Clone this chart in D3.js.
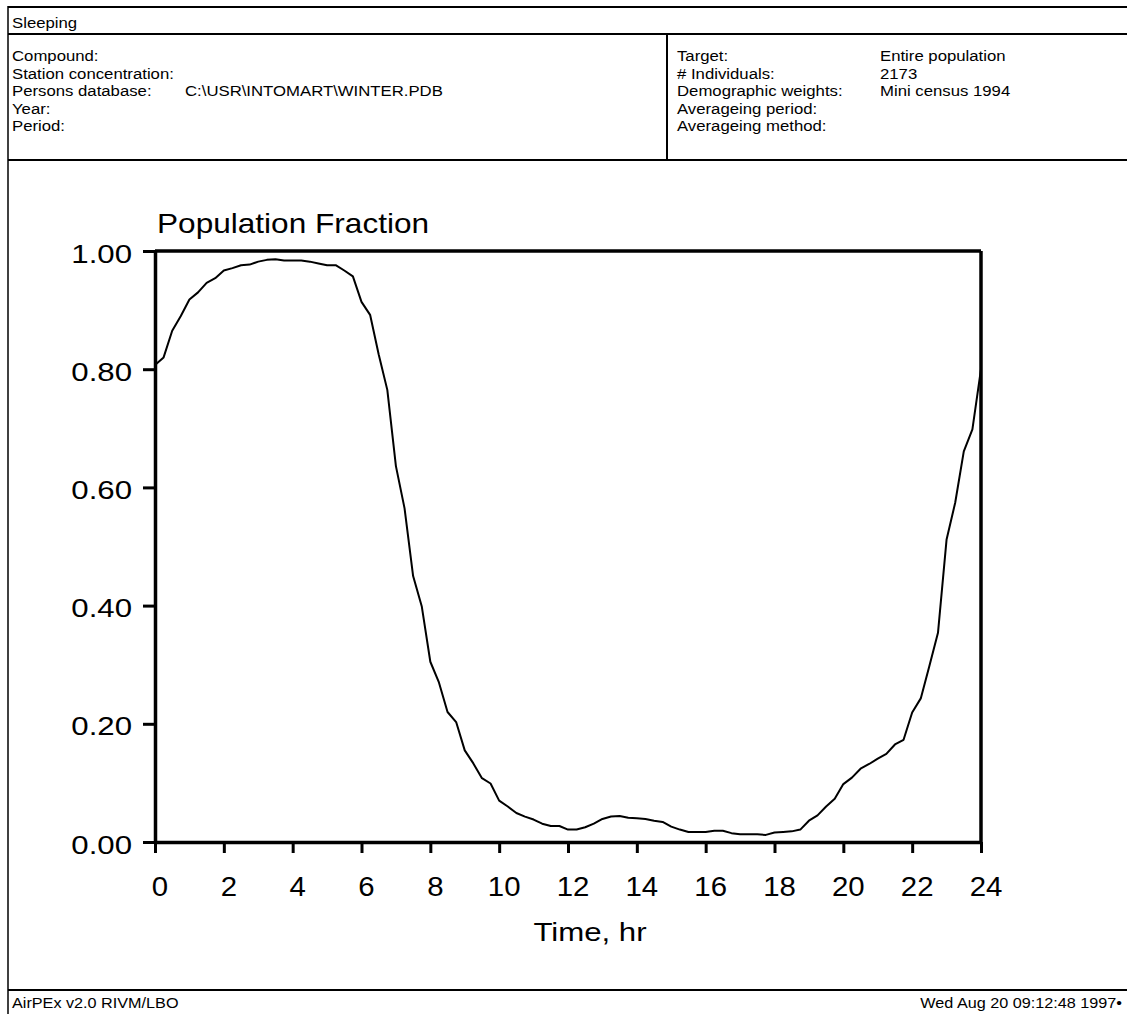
<!DOCTYPE html>
<html>
<head>
<meta charset="utf-8">
<script src="https://cdn.jsdelivr.net/npm/d3@7"></script>
<style>
  html, body { margin: 0; padding: 0; background: #fff; }
  svg { display: block; }
  text { font-family: "Liberation Sans", Arial, Helvetica, sans-serif; fill: #000; }
</style>
</head>
<body>
<svg id="chart" width="1127" height="1014"></svg>
<script>
// ---- Data ----
const hours = [
  0, 0.25, 0.5, 0.75, 1, 1.25, 1.5, 1.75, 2, 2.25, 2.5, 2.75,
  3, 3.25, 3.5, 3.75, 4, 4.25, 4.5, 4.75, 5, 5.25, 5.5, 5.75,
  6, 6.25, 6.5, 6.75, 7, 7.25, 7.5, 7.75, 8, 8.25, 8.5, 8.75,
  9, 9.25, 9.5, 9.75, 10, 10.25, 10.5, 10.75, 11, 11.25, 11.5, 11.75,
  12, 12.25, 12.5, 12.75, 13, 13.25, 13.5, 13.75, 14, 14.25, 14.5, 14.75,
  15, 15.25, 15.5, 15.75, 16, 16.25, 16.5, 16.75, 17, 17.25, 17.5, 17.75,
  18, 18.25, 18.5, 18.75, 19, 19.25, 19.5, 19.75, 20, 20.25, 20.5, 20.75,
  21, 21.25, 21.5, 21.75, 22, 22.25, 22.5, 22.75, 23, 23.25, 23.5, 23.75, 24
];
const sleepingFraction = [
  0.807, 0.820, 0.865, 0.890, 0.918, 0.930, 0.946, 0.954, 0.967, 0.971, 0.976, 0.977,
  0.982, 0.985, 0.986, 0.984, 0.984, 0.984, 0.982, 0.979, 0.976, 0.976, 0.967, 0.957,
  0.914, 0.892, 0.825, 0.765, 0.636, 0.565, 0.450, 0.399, 0.305, 0.270, 0.220, 0.203,
  0.155, 0.133, 0.108, 0.099, 0.070, 0.060, 0.049, 0.043, 0.038, 0.031, 0.027, 0.027,
  0.021, 0.021, 0.025, 0.031, 0.039, 0.043, 0.044, 0.041, 0.040, 0.039, 0.036, 0.034,
  0.026, 0.021, 0.017, 0.017, 0.017, 0.019, 0.019, 0.015, 0.013, 0.013, 0.013, 0.012,
  0.016, 0.017, 0.018, 0.021, 0.036, 0.045, 0.060, 0.073, 0.098, 0.109, 0.124, 0.132,
  0.141, 0.149, 0.165, 0.173, 0.219, 0.243, 0.298, 0.354, 0.512, 0.574, 0.661, 0.698, 0.800
];
const xTicks = [0, 2, 4, 6, 8, 10, 12, 14, 16, 18, 20, 22, 24];
const yTicks = [0, 0.2, 0.4, 0.6, 0.8, 1.0];

const headerTitle = "Sleeping";
const leftLabels = ["Compound:", "Station concentration:", "Persons database:", "Year:", "Period:"];
const leftValues = ["", "", "C:\\USR\\INTOMART\\WINTER.PDB", "", ""];
const rightLabels = ["Target:", "# Individuals:", "Demographic weights:", "Averageing period:", "Averageing method:"];
const rightValues = ["Entire population", "2173", "Mini census 1994", "", ""];
const chartTitle = "Population Fraction";
const xTitle = "Time, hr";
const footerLeft = "AirPEx v2.0 RIVM/LBO";
const footerRight = "Wed Aug 20 09:12:48 1997\u2022";

// ---- Drawing ----
const svg = d3.select("#chart");
const W = 1127, H = 1014;

function txt(g, x, y, s, size, anchor, sx) {
  return g.append("text")
    .attr("transform", `translate(${x},${y}) scale(${sx},1)`)
    .attr("text-anchor", anchor)
    .style("font-size", size + "px")
    .text(s);
}
function hline(x1, x2, y, w) {
  svg.append("line").attr("x1", x1).attr("x2", x2).attr("y1", y).attr("y2", y)
    .attr("stroke", "#000").attr("stroke-width", w);
}
function vline(x, y1, y2, w) {
  svg.append("line").attr("x1", x).attr("x2", x).attr("y1", y1).attr("y2", y2)
    .attr("stroke", "#000").attr("stroke-width", w);
}

// frame
vline(8, 6, H, 1.5);
hline(8, W, 7, 2);
hline(8, W, 34, 2);
hline(8, W, 160, 2);
vline(667, 34, 160, 2);
hline(8, W, 990, 2);

const hdrSize = 15.5, hdrSx = 1.08;
txt(svg, 12, 28, headerTitle, hdrSize, "start", hdrSx);
const rowY = [61, 78.5, 96, 113.5, 131];
leftLabels.forEach((s, i) => {
  txt(svg, 12, rowY[i], s, hdrSize, "start", hdrSx);
  if (leftValues[i]) txt(svg, 185, rowY[i], leftValues[i], hdrSize, "start", hdrSx);
});
rightLabels.forEach((s, i) => {
  txt(svg, 677, rowY[i], s, hdrSize, "start", hdrSx);
  if (rightValues[i]) txt(svg, 880, rowY[i], rightValues[i], hdrSize, "start", hdrSx);
});

txt(svg, 12, 1008, footerLeft, 15, "start", 1.08);
txt(svg, 1122, 1008, footerRight, 15, "end", 1.08);

// plot
const x0 = 155, x1 = 981, yTop = 251, yBot = 842;
const x = d3.scaleLinear().domain([0, 24]).range([x0, x1]);
const y = d3.scaleLinear().domain([0, 1]).range([yBot, yTop]);

const plot = svg.append("g");

// top and right frame
plot.append("line").attr("x1", x0).attr("x2", x1).attr("y1", yTop).attr("y2", yTop)
  .attr("stroke", "#000").attr("stroke-width", 3.5);
plot.append("line").attr("x1", x1).attr("x2", x1).attr("y1", yTop).attr("y2", yBot)
  .attr("stroke", "#000").attr("stroke-width", 3.5);

const yAxis = plot.append("g").attr("transform", `translate(${x0},0)`)
  .call(d3.axisLeft(y).tickValues(yTicks).tickFormat(d3.format(".2f")).tickSize(12).tickSizeOuter(0));
const xAxis = plot.append("g").attr("transform", `translate(0,${yBot})`)
  .call(d3.axisBottom(x).tickValues(xTicks).tickFormat(d3.format("d")).tickSize(11).tickSizeOuter(0));

[yAxis, xAxis].forEach(a => {
  a.select(".domain").attr("stroke", "#000").attr("stroke-width", 3.5);
  a.selectAll(".tick line").attr("stroke", "#000").attr("stroke-width", 3);
});
yAxis.selectAll(".tick text")
  .attr("x", 0).attr("dy", null)
  .attr("transform", "translate(-23,11) scale(1.2,1)")
  .attr("text-anchor", "end")
  .style("font-size", "26px").style("font-family", null);
xAxis.selectAll(".tick text")
  .attr("y", 0).attr("dy", null)
  .attr("transform", "translate(4.5,54) scale(1.05,1)")
  .attr("text-anchor", "middle")
  .style("font-size", "28px").style("font-family", null);
plot.selectAll(".tick text").attr("fill", "#000");

// curve
const pts = hours.map((h, i) => [h, sleepingFraction[i]]);
plot.append("path")
  .datum(pts)
  .attr("fill", "none")
  .attr("stroke", "#000")
  .attr("stroke-width", 2)
  .attr("stroke-linejoin", "round")
  .attr("d", d3.line().x(d => x(d[0])).y(d => y(d[1])));

// titles
txt(svg, 157, 233, chartTitle, 27, "start", 1.17);
txt(svg, 590, 941, xTitle, 26, "middle", 1.2);
</script>
</body>
</html>
